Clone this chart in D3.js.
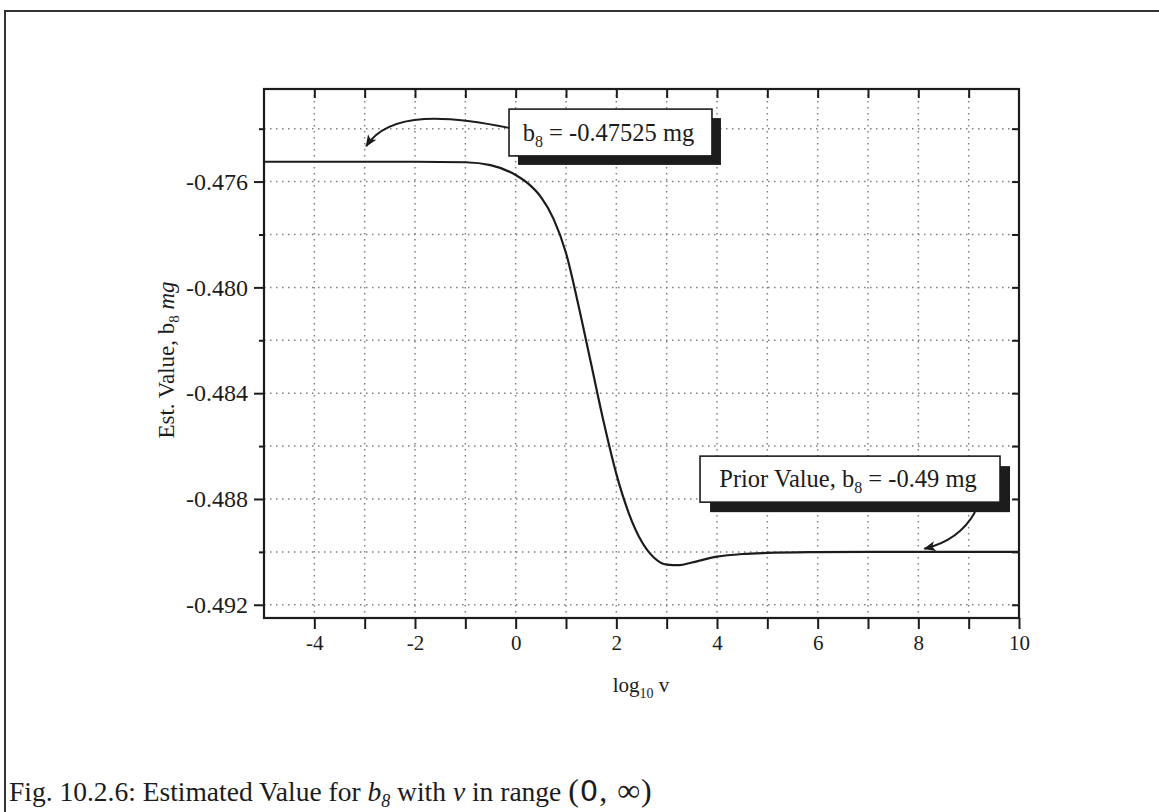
<!DOCTYPE html>
<html>
<head>
<meta charset="utf-8">
<script src="https://cdn.jsdelivr.net/npm/d3@7"></script>
<style>
  html, body { margin: 0; padding: 0; background: #fff; }
  svg { display: block; font-family: "Liberation Serif", "Times New Roman", serif; }
</style>
</head>
<body>
<svg id="chart" width="1159" height="812"></svg>
<script>
// Estimated b8 against log10 of the prior weight v
const logNu  = [-5, -4, -3, -2, -1, -0.5, 0, 0.25, 0.5, 0.75, 1, 1.25, 1.5, 1.75, 2, 2.25, 2.5, 2.75, 3, 3.25, 3.5, 4, 4.5, 5, 6, 7, 8, 9, 10];
const estB8  = [-0.47525, -0.47525, -0.47525, -0.47525, -0.47527, -0.47538, -0.47575, -0.47608, -0.47658, -0.47740,
                -0.47870, -0.48070, -0.48290, -0.48510, -0.48705, -0.48855, -0.48960, -0.49022, -0.49048, -0.49050,
                -0.49040, -0.49018, -0.49008, -0.49004, -0.49001, -0.49, -0.49, -0.49, -0.49];

const xTicks       = [-4, -3, -2, -1, 0, 1, 2, 3, 4, 5, 6, 7, 8, 9, 10];
const xTickLabels  = [-4, -2, 0, 2, 4, 6, 8, 10];
const yTickLabels  = [-0.476, -0.480, -0.484, -0.488, -0.492];
const yMinorTicks  = [-0.474, -0.478, -0.482, -0.486, -0.490];
const xGrid        = [-4, -3, -2, -1, 0, 1, 2, 3, 4, 5, 6, 7, 8, 9];
const yGrid        = [-0.474, -0.476, -0.478, -0.480, -0.482, -0.484, -0.486, -0.488, -0.490, -0.492];

const finalEstimate = -0.47525;   // value at the small-v end of the curve
const priorValue    = -0.49;      // value the curve settles to for large v

const svg = d3.select("#chart");
const ink = "#1c1c1c";

// page frame
svg.append("rect")
  .attr("x", 5).attr("y", 11).attr("width", 1170).attr("height", 820)
  .attr("fill", "none").attr("stroke", "#333").attr("stroke-width", 2);

const x = d3.scaleLinear().domain([-5, 10]).range([264, 1019]);
const y = d3.scaleLinear().domain([-0.4725, -0.4925]).range([89, 618]);

// dotted grid
const grid = svg.append("g").attr("stroke", "#808080").attr("stroke-width", 1.5)
  .attr("stroke-dasharray", "1.5,4.5");
grid.selectAll(".gv").data(xGrid).join("line")
  .attr("x1", d => x(d)).attr("x2", d => x(d))
  .attr("y1", y.range()[0]).attr("y2", y.range()[1]);
grid.selectAll(".gh").data(yGrid).join("line")
  .attr("x1", x.range()[0]).attr("x2", x.range()[1])
  .attr("y1", d => y(d)).attr("y2", d => y(d));

// axes
const fmtX = d => xTickLabels.includes(d) ? String(d) : "";
const axBottom = svg.append("g").attr("transform", `translate(0,${y.range()[1]})`)
  .call(d3.axisBottom(x).tickValues(xTicks).tickSize(11).tickPadding(6).tickFormat(fmtX));
const axTop = svg.append("g").attr("transform", `translate(0,${y.range()[0]})`)
  .call(d3.axisTop(x).tickValues(xTicks.slice(0, -1)).tickSize(-9).tickFormat(""));
const axLeft = svg.append("g").attr("transform", `translate(${x.range()[0]},0)`)
  .call(d3.axisLeft(y).tickValues(yTickLabels).tickSize(10).tickPadding(6).tickFormat(d => d.toFixed(3)));
const axLeftMinor = svg.append("g").attr("transform", `translate(${x.range()[0]},0)`)
  .call(d3.axisLeft(y).tickValues(yMinorTicks).tickSize(5).tickFormat(""));
const axRight = svg.append("g").attr("transform", `translate(${x.range()[1]},0)`)
  .call(d3.axisRight(y).tickValues(yGrid).tickSize(-7).tickFormat(""));

[axBottom, axTop, axLeft, axLeftMinor, axRight].forEach(g => {
  g.select(".domain").remove();
  g.selectAll(".tick line").attr("stroke", ink).attr("stroke-width", 2);
  g.selectAll(".tick text").attr("fill", ink).attr("font-size", 21)
    .attr("font-family", "Liberation Serif, Times New Roman, serif");
});
axLeft.selectAll(".tick text").attr("font-size", 24);

// plot frame
svg.append("rect")
  .attr("x", x.range()[0]).attr("y", y.range()[0])
  .attr("width", x.range()[1] - x.range()[0]).attr("height", y.range()[1] - y.range()[0])
  .attr("fill", "none").attr("stroke", ink).attr("stroke-width", 2.2);

// estimate curve
const line = d3.line().x((d, i) => x(logNu[i])).y(d => y(d)).curve(d3.curveMonotoneX);
svg.append("path").datum(estB8)
  .attr("d", line).attr("fill", "none").attr("stroke", ink).attr("stroke-width", 2.2);

// arrow marker
svg.append("defs").append("marker")
  .attr("id", "head").attr("viewBox", "0 0 12 10").attr("refX", 11).attr("refY", 5)
  .attr("markerWidth", 13).attr("markerHeight", 10).attr("markerUnits", "userSpaceOnUse")
  .attr("orient", "auto")
  .append("path").attr("d", "M0,0 L12,5 L0,10 L3,5 Z").attr("fill", ink);

// callout: box with drop shadow, text and a curved arrow
function callout(box, shadow, parts, arrow) {
  const g = svg.append("g");
  const bx = x(box.x0), by = y(box.y0), bw = x(box.x1) - bx, bh = y(box.y1) - by;
  g.append("rect").attr("x", bx + shadow).attr("y", by + shadow)
    .attr("width", bw).attr("height", bh).attr("fill", ink);
  g.append("rect").attr("x", bx).attr("y", by).attr("width", bw).attr("height", bh)
    .attr("fill", "#fff").attr("stroke", ink).attr("stroke-width", 1.6);
  const t = g.append("text").attr("x", bx + bw / 2 - 2).attr("y", by + bh / 2 + 8)
    .attr("text-anchor", "middle").attr("font-size", 24.5).attr("fill", ink);
  parts.forEach(p => {
    const s = t.append("tspan").text(p.text);
    if (p.sub) s.attr("font-size", 16).attr("dy", 6);
    if (p.up) s.attr("dy", -6);
  });
  const pts = arrow.map(p => [x(p[0]), y(p[1])]);
  g.append("path")
    .attr("d", `M${pts[0]} C${pts[1]} ${pts[2]} ${pts[3]}`)
    .attr("fill", "none").attr("stroke", ink).attr("stroke-width", 2)
    .attr("marker-end", "url(#head)");
}

callout({ x0: -0.132, x1: 3.90, y0: -0.47326, y1: -0.47503 }, 9,
  [{ text: "b" }, { text: "8", sub: true }, { text: " = " + finalEstimate.toFixed(5) + " mg", up: true }],
  [[-0.132, -0.47397], [-1.30, -0.47352], [-2.50, -0.47330], [-2.97, -0.47466]]);

callout({ x0: 3.663, x1: 9.623, y0: -0.48638, y1: -0.48812 }, 10,
  [{ text: "Prior Value, b" }, { text: "8", sub: true }, { text: " = " + priorValue.toFixed(2) + " mg", up: true }],
  [[9.127, -0.48849], [8.93, -0.48917], [8.60, -0.48966], [8.12, -0.48988]]);

// axis titles
const yt = svg.append("text")
  .attr("transform", "translate(174,360) rotate(-90)")
  .attr("text-anchor", "middle").attr("font-size", 23).attr("fill", ink);
yt.append("tspan").text("Est. Value,  b");
yt.append("tspan").text("8").attr("font-size", 15).attr("dy", 5);
yt.append("tspan").text(" ").attr("dy", -5);
yt.append("tspan").text("mg").attr("font-style", "italic");

const xt = svg.append("text")
  .attr("x", 641).attr("y", 692).attr("text-anchor", "middle")
  .attr("font-size", 21).attr("fill", ink);
xt.append("tspan").text("log");
xt.append("tspan").text("10").attr("font-size", 14).attr("dy", 6);
xt.append("tspan").text("  v").attr("dy", -6);

// figure caption
const cap = svg.append("text").attr("x", 9).attr("y", 801)
  .attr("font-size", 27.5).attr("fill", ink);
cap.append("tspan").text("Fig. 10.2.6: Estimated Value for ");
cap.append("tspan").text("b").attr("font-style", "italic");
cap.append("tspan").text("8").attr("font-style", "italic").attr("font-size", 18).attr("dy", 6);
cap.append("tspan").text(" with ").attr("dy", -6);
cap.append("tspan").text("ν").attr("font-style", "italic");
cap.append("tspan").text(" in range ");
const rng = cap.append("tspan").attr("font-size", 32).attr("letter-spacing", 1);
rng.append("tspan").text("(");
rng.append("tspan").text("0").attr("font-family", "DejaVu Sans").attr("font-size", 29);
rng.append("tspan").text(", ∞)");
</script>
</body>
</html>
